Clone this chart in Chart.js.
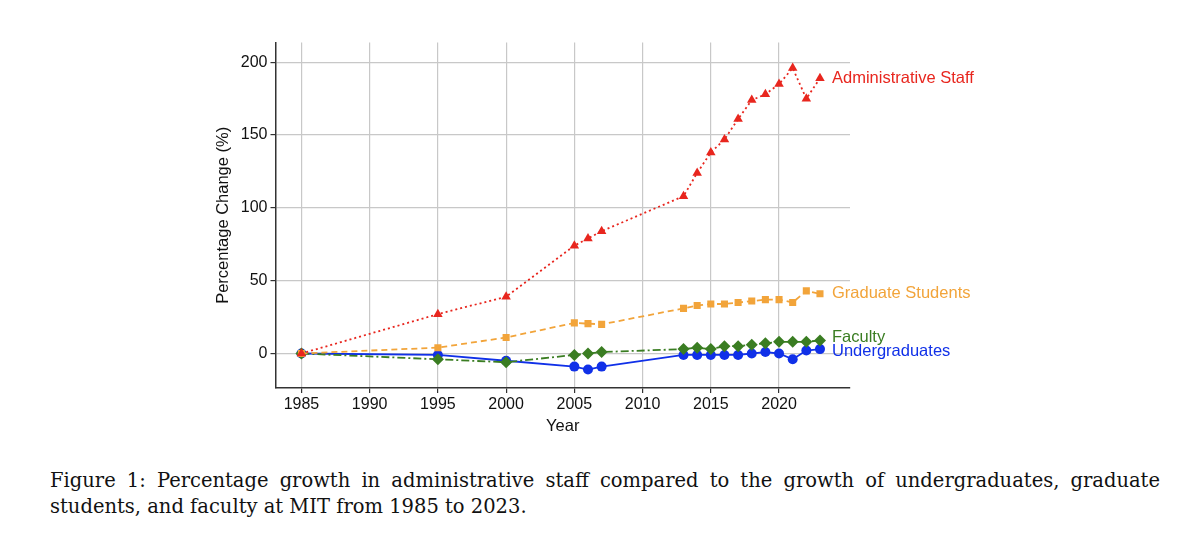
<!DOCTYPE html>
<html>
<head>
<meta charset="utf-8">
<script src="https://cdn.jsdelivr.net/npm/chart.js@4.4.0/dist/chart.umd.min.js"></script>
<style>
  body { margin: 0; background: #fff; width: 1200px; height: 556px; overflow: hidden; position: relative; }
  #wrap { position: absolute; left: 210px; top: 30px; width: 850px; height: 410px; }
  #caption { position: absolute; left: 50px; top: 468px; width: 1110px; font-family: "DejaVu Serif", "Liberation Serif", serif; font-size: 19.5px; line-height: 26px; color: #111; text-align: justify; }
</style>
</head>
<body>
<div id="wrap"><canvas id="chart"></canvas></div>
<div id="caption">Figure 1: Percentage growth in administrative staff compared to the growth of undergraduates, graduate students, and faculty at MIT from 1985 to 2023.</div>
<script>
const years = [1985, 1995, 2000, 2005, 2006, 2007, 2013, 2014, 2015, 2016, 2017, 2018, 2019, 2020, 2021, 2022, 2023];
const series = {
  'Administrative Staff': [0, 27, 39, 74, 79, 84, 108, 124, 138, 147, 161, 174, 178, 185, 196, 175, 189],
  'Graduate Students': [0, 4, 11, 21, 20.5, 20, 31, 33, 34, 34, 35, 36, 37, 37, 35, 43, 41],
  'Faculty': [0, -4, -6, -1, 0, 1, 3, 4, 3, 5, 5, 6, 7, 8, 8, 8, 9],
  'Undergraduates': [0, -1, -5, -9, -11, -9, -1, -1, -1, -1, -1, 0, 1, 0, -4, 2, 3]
};
const styles = {
  'Administrative Staff': { color: '#e8261e', dash: [2, 3], point: 'triangle', r: 5.5, labelDy: 0 },
  'Graduate Students': { color: '#f2a43a', dash: [6, 4], point: 'rect', r: 5, labelDy: 0 },
  'Faculty': { color: '#3a7d22', dash: [8, 3, 2, 3], point: 'rectRot', r: 6, labelDy: -3 },
  'Undergraduates': { color: '#1030e8', dash: [], point: 'circle', r: 5, labelDy: 2 }
};

const datasets = Object.keys(series).map(name => ({
  label: name,
  data: series[name].map((v, i) => ({ x: years[i], y: v })),
  borderColor: styles[name].color,
  backgroundColor: styles[name].color,
  borderDash: styles[name].dash,
  borderWidth: 1.8,
  pointStyle: styles[name].point,
  pointRadius: styles[name].r,
  pointBorderWidth: 0,
  tension: 0
}));

// etiquetas al final de cada serie
const endLabels = {
  id: 'endLabels',
  afterDatasetsDraw(chart) {
    const ctx = chart.ctx;
    ctx.save();
    ctx.font = '16.5px "Liberation Sans", Arial, sans-serif';
    ctx.textBaseline = 'middle';
    chart.data.datasets.forEach((ds, i) => {
      const meta = chart.getDatasetMeta(i);
      const last = meta.data[meta.data.length - 1];
      ctx.fillStyle = ds.borderColor;
      ctx.fillText(ds.label, last.x + 12, last.y + styles[ds.label].labelDy);
    });
    ctx.restore();
  }
};

new Chart(document.getElementById('chart'), {
  type: 'line',
  data: { datasets },
  plugins: [endLabels],
  options: {
    responsive: true,
    maintainAspectRatio: false,
    animation: false,
    layout: { padding: { top: 12, right: 210 } },
    plugins: { legend: { display: false }, tooltip: { enabled: false } },
    scales: {
      x: {
        type: 'linear', min: 1983.1, max: 2025.2,
        afterBuildTicks: axis => { axis.ticks = [1985, 1990, 1995, 2000, 2005, 2010, 2015, 2020].map(v => ({ value: v })); },
        grid: { color: '#c8c8c8', lineWidth: 1.2, tickColor: '#333', tickLength: 5 },
        border: { color: '#333', width: 1.5 },
        ticks: { color: '#111', font: { family: '"Liberation Sans", Arial', size: 16 }, padding: 2, callback: v => String(v) },
        title: { display: true, text: 'Year', color: '#111', font: { family: '"Liberation Sans", Arial', size: 16.5 }, padding: { top: 0 } }
      },
      y: {
        min: -23.7, max: 213.5,
        afterBuildTicks: axis => { axis.ticks = [0, 50, 100, 150, 200].map(v => ({ value: v })); },
        grid: { color: '#c8c8c8', lineWidth: 1.2, tickColor: '#333', tickLength: 5 },
        border: { color: '#333', width: 1.5 },
        ticks: { color: '#111', font: { family: '"Liberation Sans", Arial', size: 16 }, padding: 3 },
        title: { display: true, text: 'Percentage Change (%)', color: '#111', font: { family: '"Liberation Sans", Arial', size: 16.5 } }
      }
    }
  }
});
</script>
</body>
</html>
